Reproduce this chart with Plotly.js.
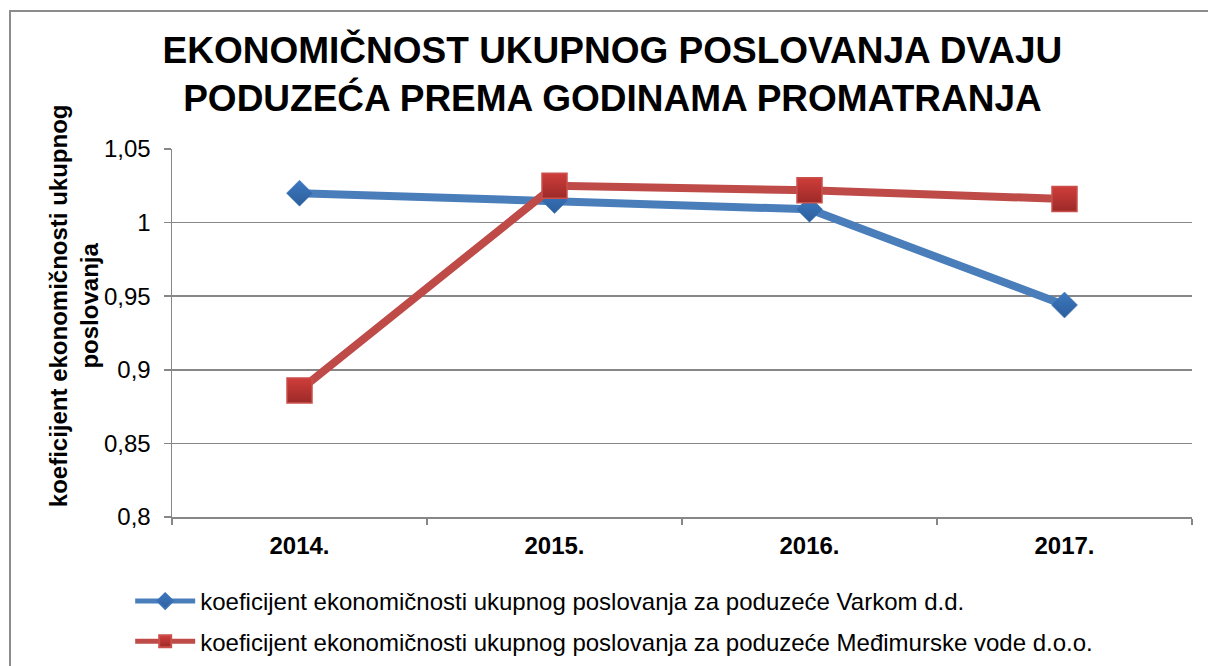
<!DOCTYPE html>
<html>
<head>
<meta charset="utf-8">
<script src="https://cdn.plot.ly/plotly-3.0.1.min.js"></script>
<style>
  html, body { margin: 0; padding: 0; background: #fff; overflow: hidden; }
  #chart { position: absolute; left: 0; top: 0; width: 1208px; height: 666px; }
  #frame { position: absolute; left: 9px; top: 10px; width: 1400px; height: 900px;
           border-left: 2px solid #8c8c8c; border-top: 2px solid #8c8c8c; pointer-events: none; }
</style>
</head>
<body>
<div id="chart"></div>
<div id="frame"></div>
<script>
const years = ["2014.", "2015.", "2016.", "2017."];
const varkom = [1.020, 1.015, 1.009, 0.944];
const medjimurske = [0.886, 1.025, 1.022, 1.016];
const seriesNames = [
  "koeficijent ekonomičnosti ukupnog poslovanja za poduzeće Varkom d.d.",
  "koeficijent ekonomičnosti ukupnog poslovanja za poduzeće Međimurske vode d.o.o."
];
const titleText = "EKONOMIČNOST UKUPNOG POSLOVANJA DVAJU<br>PODUZEĆA PREMA GODINAMA PROMATRANJA";
const yTitleText = "koeficijent ekonomičnosti ukupnog<br>poslovanja";

const FONT = "Liberation Sans, Arial, sans-serif";
const GRID = "#878787";

const traces = [
  {
    x: years, y: varkom, name: seriesNames[0], type: "scatter", mode: "lines+markers",
    legendgroup: "a",
    line: { color: "#4a7ebb", width: 8 },
    marker: { symbol: "diamond", size: 20, color: "#3d78c0",
              gradient: { type: "vertical", color: "#2c5f9c" },
              line: { color: "#3a72b5", width: 0.5 } }
  },
  {
    x: years, y: medjimurske, name: seriesNames[1], type: "scatter", mode: "lines+markers",
    legendgroup: "b",
    line: { color: "#be4b48", width: 8 },
    marker: { symbol: "square", size: 25, color: "#cf3d3a",
              gradient: { type: "vertical", color: "#9c2a28" },
              line: { color: "#c9504c", width: 1.5 } }
  }
];

const layout = {
  width: 1208, height: 666,
  paper_bgcolor: "#ffffff", plot_bgcolor: "#ffffff",
  margin: { l: 172, r: 16, t: 149, b: 149 },
  separators: ", ",
  font: { family: FONT, color: "#000000" },
  title: {
    text: titleText,
    font: { family: FONT, size: 37, weight: "bold", color: "#000000" },
    x: 0.507, xanchor: "center", xref: "container",
    y: 0.905, yanchor: "top", yref: "container"
  },
  showlegend: true,
  legend: {
    orientation: "v", x: -0.041, xanchor: "left", xref: "paper",
    y: 0.1306, yanchor: "top", yref: "container",
    font: { family: FONT, size: 24, color: "#000000" },
    traceorder: "grouped", tracegroupgap: 6, itemwidth: 60, itemsizing: "constant",
    bgcolor: "rgba(0,0,0,0)"
  },
  xaxis: {
    type: "category", range: [-0.5, 3.5], autorange: false,
    showgrid: false, zeroline: false,
    showline: true, linecolor: GRID, linewidth: 1.5,
    ticks: "outside", tickson: "boundaries", ticklen: 6, tickcolor: GRID, tickwidth: 1.5,
    tickfont: { family: FONT, size: 24, weight: "bold", color: "#000000" },
    ticklabelstandoff: 7
  },
  yaxis: {
    range: [0.8, 1.05], dtick: 0.05, tick0: 0.8, autorange: false,
    showgrid: true, gridcolor: GRID, gridwidth: 1.5,
    zeroline: false,
    showline: true, linecolor: GRID, linewidth: 1.5,
    ticks: "outside", ticklen: 7, tickcolor: GRID, tickwidth: 1.5,
    tickfont: { family: FONT, size: 24, color: "#000000" },
    ticklabelstandoff: 8
  },
  annotations: [
    {
      text: yTitleText, textangle: -90,
      xref: "paper", yref: "paper", x: -0.096, y: 0.573,
      xanchor: "center", yanchor: "middle", showarrow: false,
      font: { family: FONT, size: 24, weight: "bold", color: "#000000" }
    }
  ]
};

Plotly.newPlot("chart", traces, layout, { staticPlot: true, displayModeBar: false });
</script>
</body>
</html>
